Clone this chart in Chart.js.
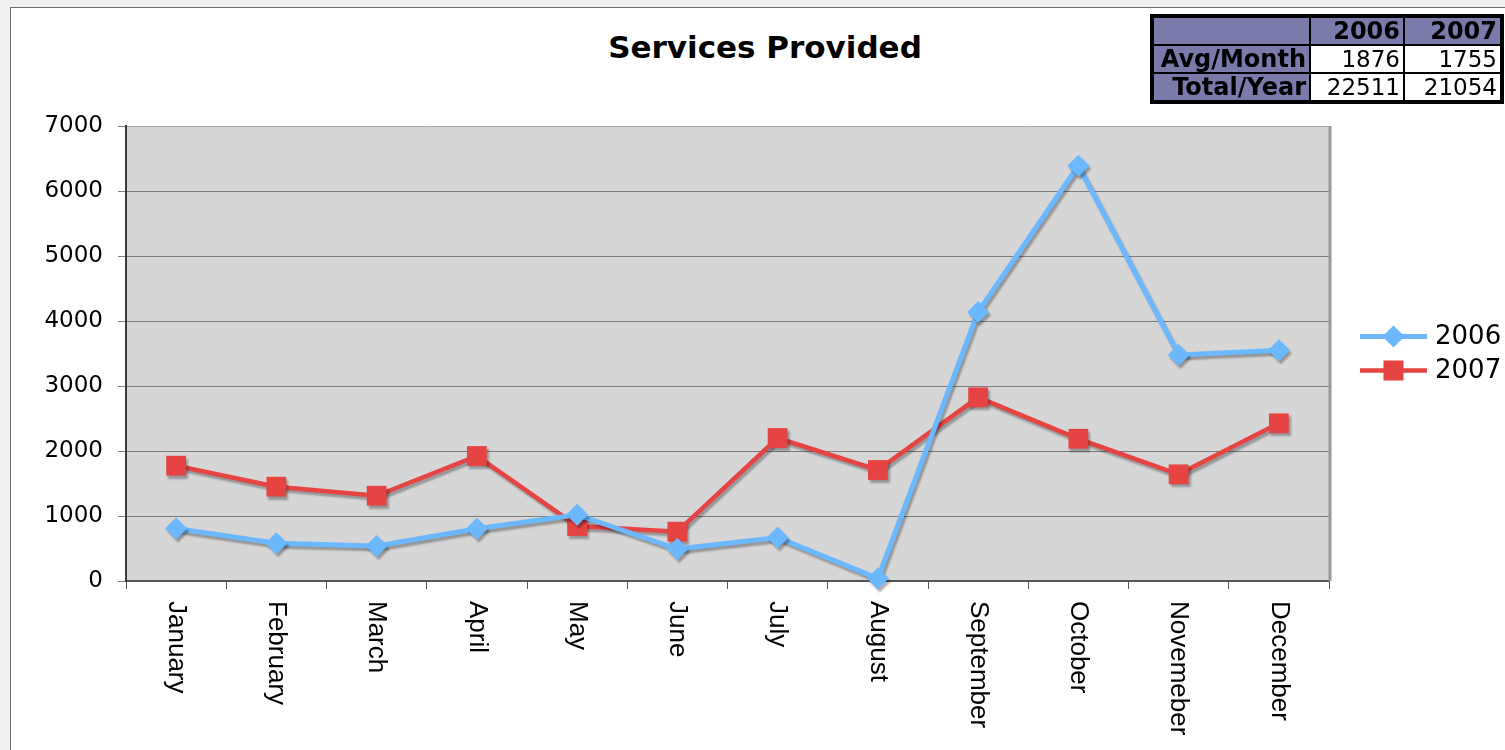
<!DOCTYPE html>
<html>
<head>
<meta charset="utf-8">
<title>Services Provided</title>
<script src="https://cdn.jsdelivr.net/npm/chart.js@4.4.1/dist/chart.umd.min.js"></script>
<style>
    html, body { margin: 0; padding: 0; }
    body { width: 1505px; height: 750px; background: #f1f1f1; position: relative; overflow: hidden; }
    #panel { position: absolute; left: 10px; top: 7px; right: 0; bottom: 0; background: #fff; border-left: 1px solid #6e6e6e; border-top: 1px solid #6e6e6e; }
    #title { position: absolute; left: 0; width: 1530px; top: 29px; line-height: 36px; text-align: center; font: bold 31px "DejaVu Sans", Verdana, sans-serif; color: #000; }
    #chart { position: absolute; left: 0; top: 0; }
    #summary { position: absolute; left: 1150px; top: 14px; width: 353px; table-layout: fixed; border-collapse: collapse; border: 4px solid #000; font: 23px "DejaVu Sans", Verdana, sans-serif; }
    #summary th, #summary td { border: 2px solid #000; height: 26px; line-height: 26px; padding: 0 3px; text-align: right; white-space: nowrap; }
    #summary th { background: #7b7bab; font-weight: bold; font-size: 24px; }
    #summary td { background: #fff; }
</style>
</head>
<body>
<div id="panel"></div>
<div id="title">Services Provided</div>
<canvas id="chart" width="1505" height="750"></canvas>
<table id="summary">
    <colgroup><col style="width:158px"><col style="width:94px"><col style="width:98px"></colgroup>
    <tbody id="summaryBody"></tbody>
</table>
<script>
const months = ['January', 'February', 'March', 'April', 'May', 'June', 'July', 'August', 'September', 'October', 'Novemeber', 'December'];
const years = ['2006', '2007'];
const services2006 = [809, 580, 538, 805, 1020, 492, 670, 40, 4140, 6390, 3477, 3550];
const services2007 = [1774, 1451, 1312, 1923, 846, 759, 2200, 1708, 2826, 2188, 1641, 2426];
const avgPerMonth = [1876, 1755];
const totalPerYear = [22511, 21054];
const yTicks = [0, 1000, 2000, 3000, 4000, 5000, 6000, 7000];

const blue = '#6cb8ff';
const red = '#e64343';

// summary table in the top right corner
const summaryBody = document.getElementById('summaryBody');
summaryBody.innerHTML = `
    <tr><th></th>${years.map(y => `<th>${y}</th>`).join('')}</tr>
    <tr><th>Avg/Month</th>${avgPerMonth.map(v => `<td>${v}</td>`).join('')}</tr>
    <tr><th>Total/Year</th>${totalPerYear.map(v => `<td>${v}</td>`).join('')}</tr>
`;

function diamond(ctx, x, y, r) {
    ctx.beginPath();
    ctx.moveTo(x, y - r);
    ctx.lineTo(x + r, y);
    ctx.lineTo(x, y + r);
    ctx.lineTo(x - r, y);
    ctx.closePath();
    ctx.fill();
}

const plotBackground = {
    id: 'plotBackground',
    beforeDraw(chart) {
        const { ctx, chartArea: a } = chart;
        ctx.save();
        ctx.fillStyle = '#d6d6d6';
        ctx.fillRect(a.left, a.top, a.right - a.left, a.bottom - a.top);
        ctx.restore();
    },
    afterDraw(chart) {
        const { ctx, chartArea: a } = chart;
        ctx.save();
        ctx.strokeStyle = '#9a9a9a';
        ctx.lineWidth = 3;
        ctx.beginPath();
        ctx.moveTo(a.right + 1, a.top);
        ctx.lineTo(a.right + 1, a.bottom);
        ctx.stroke();
        ctx.restore();
    }
};

// soft drop shadow under lines and markers
const seriesShadow = {
    id: 'seriesShadow',
    beforeDatasetsDraw(chart) {
        const ctx = chart.ctx;
        ctx.save();
        ctx.shadowColor = 'rgba(0, 0, 0, 0.3)';
        ctx.shadowOffsetX = 2;
        ctx.shadowOffsetY = 3;
        ctx.shadowBlur = 2;
    },
    afterDatasetsDraw(chart) {
        chart.ctx.restore();
    }
};

// month names read top to bottom under each category
const monthLabels = {
    id: 'monthLabels',
    afterDraw(chart) {
        const ctx = chart.ctx;
        const x = chart.scales.x;
        ctx.save();
        ctx.font = '26px "Liberation Sans", Arial, sans-serif';
        ctx.fillStyle = '#000';
        ctx.textAlign = 'left';
        ctx.textBaseline = 'middle';
        months.forEach((m, i) => {
            ctx.save();
            ctx.translate(x.getPixelForValue(i), x.top + 20);
            ctx.rotate(Math.PI / 2);
            ctx.fillText(m, 0, 0);
            ctx.restore();
        });
        ctx.restore();
    }
};

// legend on the right: line segment with the series marker
const sideLegend = {
    id: 'sideLegend',
    afterDraw(chart) {
        const ctx = chart.ctx;
        const x0 = 1360, x1 = 1427;
        const mid = (chart.chartArea.top + chart.chartArea.bottom) / 2;
        ctx.save();
        ctx.font = '26px "DejaVu Sans", Verdana, sans-serif';
        ctx.textBaseline = 'middle';
        chart.data.datasets.forEach((ds, i) => {
            const y = mid - 17 + i * 34;
            ctx.strokeStyle = ds.borderColor;
            ctx.lineWidth = ds.borderWidth;
            ctx.beginPath();
            ctx.moveTo(x0, y);
            ctx.lineTo(x1, y);
            ctx.stroke();
            ctx.fillStyle = ds.borderColor;
            const cx = (x0 + x1) / 2;
            if (ds.pointStyle === 'rectRot') {
                diamond(ctx, cx, y, 11);
            } else {
                ctx.fillRect(cx - 10, y - 10, 20, 20);
            }
            ctx.fillStyle = '#000';
            ctx.fillText(ds.label, 1435, y + 1);
        });
        ctx.restore();
    }
};

new Chart(document.getElementById('chart'), {
    type: 'line',
    data: {
        labels: months,
        datasets: [
            {
                label: years[0],
                data: services2006,
                borderColor: blue,
                backgroundColor: blue,
                borderWidth: 5,
                pointStyle: 'rectRot',
                pointRadius: 11,
                pointBorderWidth: 0,
                tension: 0,
                clip: false
            },
            {
                label: years[1],
                data: services2007,
                borderColor: red,
                backgroundColor: red,
                borderWidth: 4.5,
                pointStyle: 'rect',
                pointRadius: 14,
                pointBorderWidth: 0,
                tension: 0,
                clip: false
            }
        ]
    },
    options: {
        responsive: false,
        animation: false,
        devicePixelRatio: 1,
        layout: { padding: { top: 126, right: 176, left: 0, bottom: 0 } },
        plugins: {
            legend: { display: false },
            title: { display: false },
            tooltip: { enabled: false }
        },
        scales: {
            x: {
                offset: true,
                afterFit: (scale) => { scale.height = 169; },
                grid: { offset: true, drawOnChartArea: false, tickLength: 8, color: '#555' },
                border: { color: '#555', width: 2 },
                ticks: { display: false }
            },
            y: {
                min: 0,
                max: 7000,
                afterFit: (scale) => { scale.width = 126; },
                afterBuildTicks: (scale) => { scale.ticks = yTicks.map(v => ({ value: v })); },
                grid: {
                    color: (c) => c.tick && c.tick.value === 7000 ? '#a8a8a8' : '#7c7c7c',
                    tickLength: 8,
                    tickColor: '#808080'
                },
                border: { color: '#3a3a3a', width: 2 },
                ticks: {
                    padding: 15,
                    color: '#000',
                    callback: (v) => String(v),
                    font: { family: '"DejaVu Sans", Verdana, sans-serif', size: 23 }
                }
            }
        }
    },
    plugins: [plotBackground, seriesShadow, monthLabels, sideLegend]
});
</script>
</body>
</html>
